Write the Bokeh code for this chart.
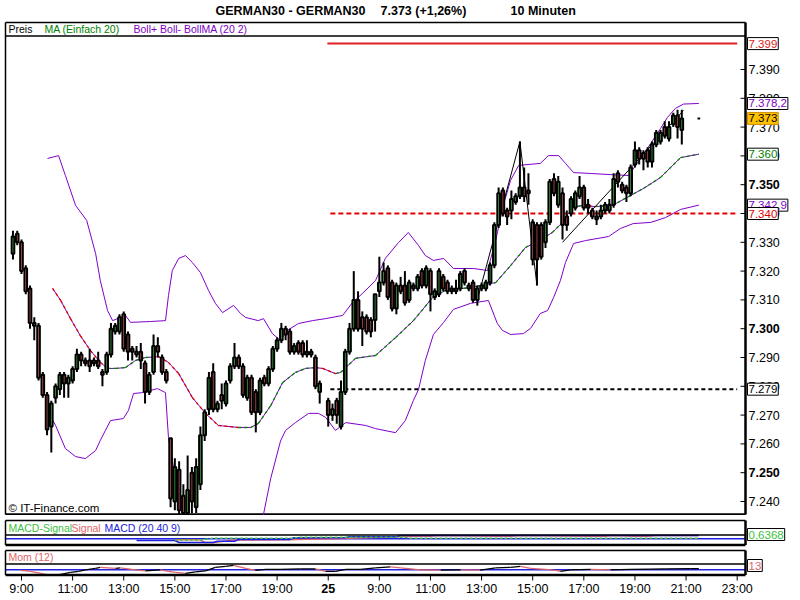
from bokeh.plotting import figure
from bokeh.models import Range1d, Label, ColumnDataSource
from bokeh.layouts import column
from bokeh.embed import file_html
from bokeh.resources import INLINE

# ---------------- data (10-minute bars; index 0 = 9:00 first day) ----------------
bar_index = list(range(-2, 71)) + list(range(72, 156)) + [159]
opens = [7326, 7333, 7330, 7321, 7314, 7301, 7301, 7284, 7277, 7266, 7276, 7279, 7284, 7281, 7282, 7286,
         7291, 7289, 7289, 7289, 7289, 7285, 7285, 7291, 7299, 7299, 7305, 7298, 7293, 7292, 7292, 7288,
         7278, 7285, 7294, 7290, 7285, 7262, 7240, 7251, 7242, 7236, 7250, 7238, 7246, 7263, 7272, 7285,
         7272, 7277, 7274, 7282, 7287, 7290, 7287, 7276, 7283, 7278, 7271, 7283, 7281, 7286, 7293, 7296,
         7300, 7299, 7292, 7295, 7295, 7291, 7291, 7290, 7278,
         7275, 7270, 7275, 7266, 7278, 7292, 7300, 7310, 7304, 7304, 7303, 7303, 7313, 7316, 7321, 7316,
         7307, 7315, 7315, 7310, 7315, 7314, 7320, 7315, 7320, 7311, 7312, 7318, 7316, 7314, 7313, 7314,
         7320, 7315, 7316, 7310, 7314, 7314, 7316, 7322, 7336, 7348, 7341, 7341, 7344, 7346, 7349, 7348,
         7337, 7336, 7336, 7330, 7337, 7352, 7343, 7347, 7339, 7340, 7342, 7346, 7349, 7343, 7341, 7338,
         7339, 7341, 7341, 7343, 7354, 7350, 7349, 7347, 7357, 7362, 7361, 7362, 7358, 7364, 7365, 7370,
         7366, 7371, 7374, 7369, 7373]
highs = [7334, 7334, 7331, 7322, 7315, 7304, 7302, 7285, 7278, 7275, 7281, 7285, 7285, 7284, 7287, 7293,
         7292, 7290, 7293, 7290, 7292, 7286, 7292, 7302, 7302, 7305, 7306, 7299, 7294, 7294, 7295, 7289,
         7285, 7298, 7297, 7291, 7286, 7262, 7255, 7254, 7246, 7256, 7252, 7255, 7266, 7272, 7285, 7288,
         7275, 7281, 7282, 7288, 7295, 7291, 7288, 7284, 7284, 7279, 7283, 7284, 7287, 7294, 7297, 7302,
         7301, 7300, 7295, 7296, 7296, 7296, 7293, 7291, 7282,
         7276, 7274, 7276, 7282, 7293, 7302, 7320, 7313, 7306, 7305, 7304, 7312, 7325, 7323, 7322, 7317,
         7316, 7318, 7320, 7317, 7316, 7319, 7321, 7322, 7321, 7314, 7321, 7319, 7317, 7315, 7317, 7320,
         7321, 7316, 7317, 7315, 7316, 7317, 7323, 7337, 7349, 7349, 7342, 7348, 7347, 7365, 7356, 7354,
         7338, 7337, 7337, 7338, 7352, 7354, 7353, 7349, 7341, 7346, 7348, 7353, 7350, 7345, 7342, 7341,
         7343, 7344, 7345, 7354, 7355, 7351, 7350, 7357, 7365, 7363, 7362, 7363, 7365, 7369, 7369, 7372,
         7372, 7375, 7376, 7376, 7373]
lows = [7324, 7329, 7319, 7312, 7300, 7296, 7282, 7276, 7263, 7257, 7274, 7277, 7276, 7276, 7281, 7285,
        7287, 7287, 7285, 7287, 7286, 7280, 7284, 7290, 7298, 7298, 7292, 7289, 7289, 7290, 7286, 7274,
        7277, 7284, 7290, 7284, 7281, 7238, 7237, 7235, 7234, 7234, 7236, 7236, 7244, 7261, 7270, 7271,
        7271, 7272, 7273, 7281, 7286, 7286, 7276, 7275, 7270, 7264, 7270, 7280, 7280, 7285, 7292, 7295,
        7296, 7291, 7291, 7291, 7290, 7290, 7290, 7279, 7274,
        7266, 7268, 7267, 7265, 7277, 7291, 7299, 7299, 7294, 7298, 7297, 7299, 7311, 7315, 7310, 7306,
        7305, 7312, 7308, 7309, 7313, 7313, 7314, 7314, 7306, 7310, 7311, 7313, 7312, 7312, 7312, 7313,
        7315, 7313, 7309, 7308, 7313, 7313, 7315, 7321, 7335, 7339, 7336, 7338, 7343, 7345, 7344, 7343,
        7322, 7315, 7324, 7328, 7336, 7346, 7342, 7331, 7334, 7339, 7341, 7345, 7341, 7340, 7338, 7336,
        7338, 7340, 7340, 7342, 7349, 7347, 7344, 7346, 7356, 7357, 7355, 7356, 7356, 7363, 7364, 7366,
        7365, 7370, 7366, 7364, 7373]
closes = [7332, 7330, 7320, 7313, 7302, 7302, 7283, 7277, 7265, 7274, 7280, 7284, 7281, 7283, 7286, 7291,
          7289, 7288, 7287, 7288, 7287, 7284, 7291, 7300, 7301, 7304, 7293, 7292, 7292, 7291, 7289, 7278,
          7284, 7294, 7292, 7285, 7282, 7241, 7252, 7237, 7236, 7244, 7240, 7252, 7263, 7271, 7283, 7272,
          7274, 7275, 7281, 7287, 7290, 7287, 7277, 7283, 7271, 7271, 7282, 7281, 7286, 7293, 7296, 7300,
          7298, 7292, 7294, 7292, 7291, 7292, 7292, 7280, 7281,
          7270, 7272, 7270, 7278, 7292, 7300, 7310, 7300, 7300, 7299, 7299, 7312, 7316, 7320, 7311, 7307,
          7315, 7313, 7309, 7316, 7314, 7318, 7315, 7321, 7312, 7313, 7320, 7314, 7313, 7313, 7314, 7319,
          7316, 7314, 7310, 7314, 7315, 7316, 7322, 7336, 7347, 7340, 7339, 7345, 7346, 7349, 7346, 7347,
          7324, 7324, 7325, 7337, 7351, 7347, 7351, 7336, 7336, 7345, 7347, 7349, 7342, 7342, 7339, 7339,
          7341, 7343, 7343, 7352, 7351, 7348, 7347, 7356, 7362, 7359, 7359, 7358, 7364, 7368, 7368, 7367,
          7370, 7374, 7370, 7373, 7373]

# Moving average / Bollinger bands
ma_x = [7.3, 9.2, 11.5, 13.8, 16.2, 18.5, 20.2, 22.1, 24.4, 26.8, 29.1, 32.2, 34.5, 36.9, 40.1, 43.2, 46.2,
        50.9, 53.8, 55.6, 58.5, 61.3, 64.3, 66.7, 69.0, 70.7, 73.7, 74.9, 78.4, 83.1, 87.8, 92.0, 96.5, 99.5,
        105.4, 111.3, 114.8, 118.3, 120.7, 124.6, 127.0, 129.3, 131.7, 134.7, 138.7, 146.0, 150.0, 154.7, 159]
ma_v = [7314.0, 7309.8, 7303.5, 7297.6, 7292.4, 7288.3, 7286.2, 7286.2, 7286.5, 7289.0, 7290.0, 7290.3,
        7288.3, 7284.4, 7276.1, 7270.6, 7266.4, 7265.7, 7265.7, 7267.1, 7273.3, 7281.3, 7284.8, 7286.2,
        7286.5, 7286.2, 7284.4, 7284.8, 7289.7, 7290.7, 7296.9, 7302.8, 7310.8, 7313.3, 7314.3, 7316.0,
        7321.9, 7328.2, 7329.9, 7333.4, 7336.9, 7342.1, 7342.8, 7342.4, 7342.8, 7348.7, 7352.5, 7359.4, 7360.6]
upper_x = [6.1, 8.7, 10.3, 12.7, 15.3, 17.4, 18.5, 20.2, 21.4, 24.4, 25.6, 30.3, 33.8, 34.5, 35.4, 36.9,
           38.5, 40.1, 42.0, 43.9, 45.5, 47.2, 49.8, 51.4, 52.6, 55.6, 56.8, 58.9, 60.8, 62.4, 65.0, 68.3,
           71.4, 75.4, 77.7, 80.0, 83.1, 85.4, 88.5, 90.8, 93.2, 94.8, 96.7, 99.1, 101.4, 106.1, 109.4,
           111.3, 113.1, 114.8, 116.7, 121.8, 123.7, 126.1, 127.7, 129.6, 133.6, 138.3, 142.5, 145.3,
           147.7, 150.0, 151.6, 153.5, 155.4, 159]
upper_v = [7359.1, 7360.1, 7353.2, 7342.8, 7337.6, 7326.1, 7316.7, 7306.3, 7302.8, 7304.6, 7302.2, 7302.5,
           7302.8, 7311.5, 7320.2, 7324.4, 7325.4, 7323.0, 7319.5, 7313.3, 7308.8, 7305.6, 7308.1, 7305.3,
           7303.9, 7302.8, 7303.5, 7298.3, 7295.9, 7299.4, 7301.8, 7302.8, 7303.5, 7304.6, 7309.1, 7312.2,
           7316.7, 7324.4, 7329.9, 7333.4, 7328.9, 7325.4, 7323.7, 7324.4, 7320.9, 7320.9, 7320.2, 7330.6,
           7342.8, 7351.5, 7356.7, 7357.4, 7360.1, 7360.1, 7357.4, 7354.2, 7353.9, 7353.5, 7353.2, 7359.1,
           7364.3, 7369.5, 7373.3, 7376.5, 7378.0, 7378.2]
lower_x = [6.1, 8.0, 10.3, 12.7, 15.0, 17.4, 18.5, 19.7, 20.9, 23.9, 25.1, 26.3, 28.4, 31.9, 33.8, 34.5,
           36.2, 37.8, 39.7, 44.4, 49.1, 53.8, 56.6, 58.5, 60.8, 62.0, 64.3, 67.4, 69.7, 71.4, 73.7, 76.1,
           80.8, 83.1, 87.8, 90.1, 92.0, 93.2, 94.8, 96.7, 99.1, 101.4, 105.4, 109.6, 111.7, 112.9, 114.8,
           117.8, 119.5, 121.8, 123.5, 124.9, 126.5, 127.7, 129.6, 132.4, 137.8, 140.6, 143.6, 147.7,
           151.2, 154.7, 159]
lower_v = [7271.6, 7266.4, 7258.4, 7255.6, 7254.9, 7257.7, 7261.2, 7264.7, 7268.1, 7268.8, 7271.6, 7277.5,
           7277.8, 7279.2, 7277.8, 7262.2, 7247.3, 7235.8, 7228.0, 7226.0, 7225.0, 7227.0, 7234.0, 7248.0,
           7261.0, 7264.7, 7267.4, 7270.6, 7270.6, 7269.2, 7264.7, 7267.4, 7266.4, 7265.3, 7263.9, 7268.1,
           7275.1, 7278.9, 7289.0, 7298.0, 7302.2, 7306.7, 7308.8, 7309.8, 7301.8, 7299.4, 7298.0, 7298.3,
           7300.1, 7305.3, 7306.3, 7310.8, 7316.7, 7323.0, 7329.6, 7330.6, 7332.0, 7334.8, 7336.5, 7336.9,
           7338.6, 7341.4, 7342.9]

# drawn trend lines
trend1_x = [107, 117, 121]
trend1_v = [7310, 7365, 7315]
trend2_x = [127, 155.4]
trend2_v = [7330, 7375.8]

# horizontal levels
level_x0 = [71.8, 72.5, 72.5]
level_x1 = [168, 168, 168]
level_v = [7399, 7340, 7279]

# right-axis ticks
price_ticks = list(range(7240, 7391, 10))
bold_ticks = [7250, 7300, 7350]

# time axis
time_ticks = list(range(0, 169, 12))
time_labels = ["9:00", "11:00", "13:00", "15:00", "17:00", "19:00", "25", "9:00", "11:00",
               "13:00", "15:00", "17:00", "19:00", "21:00", "23:00"]

# MACD (20 40 9)
macd_x = [27, 36, 37, 45, 46, 50, 51, 63, 64, 76, 77, 88, 89, 159]
macd_v = [-1.7, -1.7, -3.7, -3.7, -2.4, -2.4, -0.7, -0.7, 1.0, 1.0, 2.0, 2.0, 3.3, 3.3]
signal_x = [36, 42, 43, 45, 50, 62, 75, 90, 94, 96, 98, 112, 115, 117, 133, 137, 139, 144, 147, 149, 159]
signal_v = [-1.0, -1.0, -3.7, -3.7, -1.2, -1.0, 0.2, 2.4, 2.6, 2.6, 3.3, 2.6, 2.6, 3.3, 2.6, 2.6, 3.3,
            2.6, 2.6, 3.3, 3.3]
hist_x = [36, 42, 45, 64, 65, 90, 91, 159]
hist_v = [-1.2, -1.2, 0.6, 0.6, 1.6, 1.6, 0.6, 0.6]

# Momentum (12)
mom_x = [-0.2, 2.1, 4.5, 6.8, 9.2, 11.5, 13.4, 15.0, 17.4, 18.5, 22.1, 23.2, 26.8, 29.1, 32.6, 34.5, 36.2,
         38.5, 40.8, 43.2, 45.5, 47.9, 49.8, 52.6, 54.9, 57.3, 60.8, 65.5, 69.0, 71.4, 73.7, 76.1, 79.6,
         83.1, 86.6, 89.0, 93.7, 98.4, 103.1, 107.7, 111.3, 114.8, 117.1, 119.5, 123.0, 125.4, 126.5,
         128.9, 133.6, 138.3, 143.0, 147.7, 151.2, 157.1, 159]
mom_v = [-8, -20, -44, -68, -56, -32, -20, 0, 16, 28, 16, 22, 0, -14, -2, -20, -32, -44, -26, -14, 28, 40,
         52, 16, -8, 4, 4, 10, 10, -20, -20, 4, 4, 22, 34, 22, 0, -4, 0, -4, 22, 30, 40, 18, 4, -8, -20, 0,
         4, 0, 6, 8, 10, 13, 13]

# ---------------- style / layout ----------------
FONT = "Liberation Sans"
C_UP = "#4CC44C"
C_DN = "#E06666"
PURPLE = "#8000C8"
MA_UP = "#008000"
MA_DN = "#E00000"
BLUE = "#2020E0"
W = 794
BOX_L, BOX_R = 5, 745
BOXFS = "11.5px"
BOXPAD = dict(left=1, right=1, top=2, bottom=2)


def ix(px):          # page x -> bar index
    return (px - 21) / 4.26


def de(v):
    return f"{v:,.0f}".replace(",", ".")


def add_label(fig, x, y, text, color="black", size="11px", bold=False, align="left",
              bg=None, border=None, pad=None):
    kw = dict(x=x, y=y, text=text, text_color=color, text_font=FONT, text_font_size=size,
              text_font_style="bold" if bold else "normal", text_align=align,
              text_baseline="middle")
    if bg is not None:
        kw["background_fill_color"] = bg
    if border is not None:
        kw["border_line_color"] = border
    if pad is not None:
        kw["padding"] = pad
    fig.add_layout(Label(**kw))


def make_fig(h, yr):
    f = figure(frame_width=W, frame_height=h, x_range=Range1d(ix(0), ix(W)), y_range=Range1d(*yr),
               output_backend="svg", toolbar_location=None, x_axis_location=None,
               y_axis_location=None, min_border=0, outline_line_color=None,
               background_fill_color="white", border_fill_color="white")
    f.grid.visible = False
    return f


def draw_box(fig, yc, top, bottom, sep):
    xl, xr = ix(BOX_L), ix(BOX_R)
    fig.segment(x0=[xl, xl, xl], y0=[yc(top), yc(top), yc(sep)], x1=[xl, xr, xr],
                y1=[yc(bottom), yc(top), yc(sep)], line_color="black", line_width=1.5)
    fig.segment(x0=[xr, xl], y0=[yc(top), yc(bottom)], x1=[xr, xr], y1=[yc(bottom), yc(bottom)],
                line_color="black", line_width=2.5)


# ---------------- main price panel (page y 0..515) ----------------
def ym(py):
    return 7390 - (py - 69) / 2.88


p = make_fig(515, (ym(515), ym(0)))
draw_box(p, ym, 22, 514, 35.5)

# right axis ticks / labels
p.segment(x0=[ix(740)] * len(price_ticks), y0=price_ticks, x1=[ix(BOX_R)] * len(price_ticks),
          y1=price_ticks, line_color="black", line_width=1)
for t in price_ticks:
    add_label(p, ix(748), t, de(t), size="12.5px", bold=(t in bold_ticks))

# Bollinger bands + MA
p.line(upper_x, upper_v, line_color=PURPLE, line_width=1)
p.line(lower_x, lower_v, line_color=PURPLE, line_width=1)
p.line(ma_x, ma_v, line_color=PURPLE, line_width=1)
ma_col = [MA_UP if ma_v[k + 1] >= ma_v[k] else MA_DN for k in range(len(ma_v) - 1)]
p.segment(x0=ma_x[:-1], y0=ma_v[:-1], x1=ma_x[1:], y1=ma_v[1:], line_color=ma_col,
          line_width=1.3, line_dash="3 3")

# levels
p.segment(x0=[level_x0[0]], y0=[level_v[0]], x1=[level_x1[0]], y1=[level_v[0]],
          line_color="#E02020", line_width=2)
p.segment(x0=[level_x0[1]], y0=[level_v[1]], x1=[level_x1[1]], y1=[level_v[1]],
          line_color="#E00000", line_width=2, line_dash="5 3")
p.segment(x0=[level_x0[2]], y0=[level_v[2]], x1=[level_x1[2]], y1=[level_v[2]],
          line_color="black", line_width=2, line_dash="4 3")

# trend lines
p.line(trend1_x, trend1_v, line_color="black", line_width=1)
p.line(trend2_x, trend2_v, line_color="black", line_width=1)

# candles
src = ColumnDataSource(dict(
    x=bar_index, high=highs, low=lows,
    top=[max(o, c) for o, c in zip(opens, closes)],
    bottom=[min(o, c) for o, c in zip(opens, closes)],
    color=[C_UP if c >= o else C_DN for o, c in zip(opens, closes)],
))
p.segment(x0="x", y0="high", x1="x", y1="low", source=src, line_color="black", line_width=2)
p.vbar(x="x", top="top", bottom="bottom", width=0.62, source=src, fill_color="color",
       line_color="black", line_width=2)

# texts
add_label(p, ix(215), ym(10), "GERMAN30 - GERMAN30", size="12.5px", bold=True)
add_label(p, ix(380), ym(10), "7.373 (+1,26%)", size="12.5px", bold=True)
add_label(p, ix(510), ym(10), "10 Minuten", size="12.5px", bold=True)
add_label(p, ix(8), ym(28.5), "Preis", size="10.5px")
add_label(p, ix(44), ym(28.5), "MA (Einfach 20)", color=MA_UP, size="10.5px")
add_label(p, ix(133), ym(28.5), "Boll+ Boll- BollMA (20 2)", color=PURPLE, size="10.5px")
add_label(p, ix(8), ym(507), "\u00a9 IT-Finance.com", size="11.5px")

# right-hand value boxes
LX = ix(747)
add_label(p, LX, 7399, "7.399", color="#E02020", size=BOXFS, bg="white", border="black", pad=BOXPAD)
add_label(p, LX, 7378.2, "7.378,2", color=PURPLE, size=BOXFS, bg="white", border="black", pad=BOXPAD)
add_label(p, LX, 7373, "7.373", color="black", size=BOXFS, bg="#FFC000", border="#D09000", pad=BOXPAD)
add_label(p, LX, 7360.6, "7.360", color=MA_UP, size=BOXFS, bg="white", border="black", pad=BOXPAD)
add_label(p, LX, 7342.9, "7.342,9", color=PURPLE, size=BOXFS, bg="white", border="black", pad=BOXPAD)
add_label(p, LX, 7340, "7.340", color="#E00000", size=BOXFS, bg="white", border="black", pad=BOXPAD)
add_label(p, LX, 7279, "7.279", color="black", size=BOXFS, bg="white", border="black", pad=BOXPAD)


# ---------------- MACD panel (page y 515..547) ----------------
def yd(py):
    return 538.3 - py


m = make_fig(32, (yd(547), yd(515)))
m.segment(x0=[ix(BOX_L)], y0=[0], x1=[ix(BOX_R)], y1=[0], line_color=BLUE, line_width=1.5)
m.line(signal_x, signal_v, line_color=C_DN, line_width=1.5)
m.line(macd_x, macd_v, line_color=BLUE, line_width=1.5)
m.line(hist_x, hist_v, line_color="#40C040", line_width=1.5, line_dash="3 2")
draw_box(m, yd, 520, 544.5, 534.5)
add_label(m, ix(8), yd(527.5), "MACD-Signal", color="#40C040", size="10.5px")
add_label(m, ix(71), yd(527.5), "Signal", color=C_DN, size="10.5px")
add_label(m, ix(104), yd(527.5), "MACD (20 40 9)", color=BLUE, size="10.5px")
add_label(m, LX, yd(534), "0,6368", color="#40C040", size=BOXFS, bg="white", border="black", pad=BOXPAD)


# ---------------- Momentum panel (page y 547..597) ----------------
def yq(py):
    return (569.3 - (py)) * 12


q = make_fig(50, (yq(597), yq(547)))
q.segment(x0=[ix(BOX_L)], y0=[0], x1=[ix(BOX_R)], y1=[0], line_color=BLUE, line_width=1.5)
mom_col = ["black" if mom_v[k + 1] >= mom_v[k] else C_DN for k in range(len(mom_v) - 1)]
q.segment(x0=mom_x[:-1], y0=mom_v[:-1], x1=mom_x[1:], y1=mom_v[1:], line_color=mom_col, line_width=1.3)
draw_box(q, yq, 550, 574.5, 563.5)
add_label(q, ix(8), yq(556.5), "Mom (12)", color=C_DN, size="10.5px")
add_label(q, LX, yq(565), "13", color=C_DN, size=BOXFS, bg="white", border="black", pad=BOXPAD)

# time axis (ticks + labels)
q.segment(x0=time_ticks, y0=[yq(575)] * len(time_ticks), x1=time_ticks,
          y1=[yq(580)] * len(time_ticks), line_color="black", line_width=1)
for t, lab in zip(time_ticks, time_labels):
    add_label(q, t, yq(588), lab, size="12.5px", bold=(lab == "25"), align="center")

layout = column(p, m, q, spacing=0)
open("out.html", "w").write(file_html(layout, INLINE))
